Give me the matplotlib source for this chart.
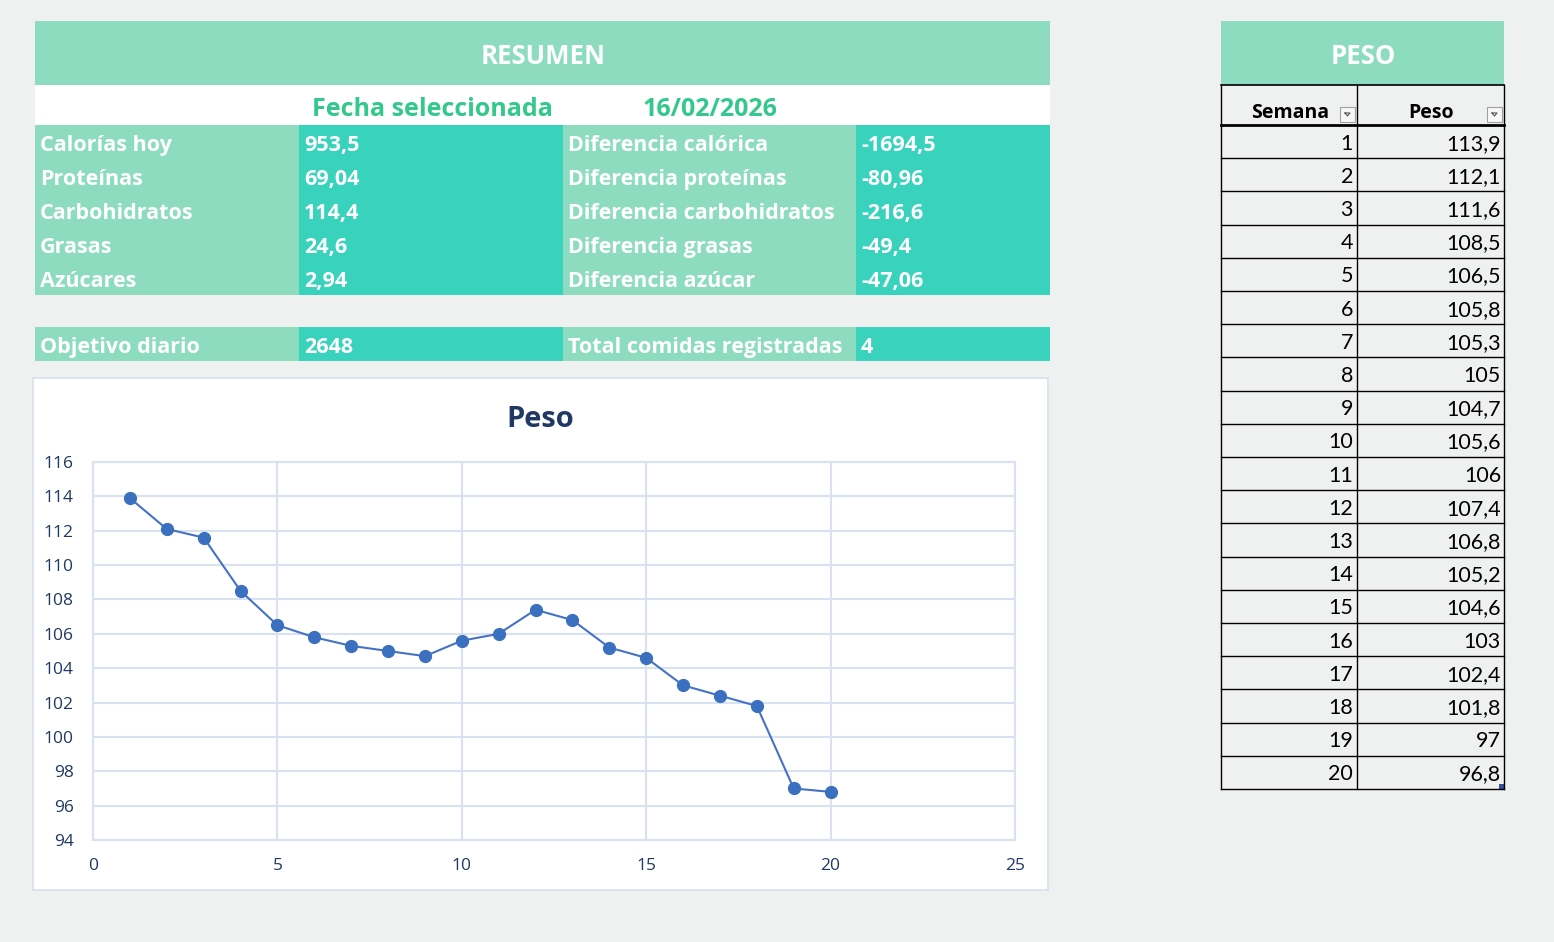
import matplotlib.pyplot as plt
from matplotlib.patches import Rectangle

plt.rcParams['font.family'] = ['Lato', 'DejaVu Sans']

# datos
semanas = [1, 2, 3, 4, 5, 6, 7, 8, 9, 10, 11, 12, 13, 14, 15, 16, 17, 18, 19, 20]
peso = [113.9, 112.1, 111.6, 108.5, 106.5, 105.8, 105.3, 105, 104.7, 105.6,
        106, 107.4, 106.8, 105.2, 104.6, 103, 102.4, 101.8, 97, 96.8]

fecha = "16/02/2026"
etiquetas_izq = ["Calorías hoy", "Proteínas", "Carbohidratos", "Grasas", "Azúcares"]
valores_izq = ["953,5", "69,04", "114,4", "24,6", "2,94"]
etiquetas_der = ["Diferencia calórica", "Diferencia proteínas", "Diferencia carbohidratos",
                 "Diferencia grasas", "Diferencia azúcar"]
valores_der = ["-1694,5", "-80,96", "-216,6", "-49,4", "-47,06"]
objetivo = ["Objetivo diario", "2648", "Total comidas registradas", "4"]

xticks = [0, 5, 10, 15, 20, 25]
yticks = [94, 96, 98, 100, 102, 104, 106, 108, 110, 112, 114, 116]

MENTA = "#8ddcc0"
TEAL = "#39d2bd"
VERDE = "#33c88c"
FONDO = "#eff1f0"
AZUL_OSC = "#1f3864"
GRID = "#d9e2f1"
BOLD = ['Open Sans', 'DejaVu Sans']

W, H = 1554, 942
fig = plt.figure(figsize=(W / 100, H / 100), dpi=100)
fig.patch.set_facecolor(FONDO)

bg = fig.add_axes([0, 0, 1, 1])
bg.set_xlim(0, W)
bg.set_ylim(H, 0)
bg.axis('off')


def rect(x0, y0, x1, y1, fc, ec='none', lw=0):
    bg.add_patch(Rectangle((x0, y0), x1 - x0, y1 - y0, facecolor=fc, edgecolor=ec, linewidth=lw))


def txt(x, y, s, size=15.5, color='white', ha='left'):
    # y = linea base del texto
    bg.text(x, y, s, fontsize=size, color=color, fontweight='bold', family=BOLD,
            ha=ha, va='baseline')


# --- RESUMEN ---
rect(35, 21, 1050, 85, MENTA)
txt(543, 64, "RESUMEN", size=18.5, ha='center')
rect(35, 85, 1050, 125, 'white')
txt(432, 116, "Fecha seleccionada", size=18, color=VERDE, ha='center')
txt(710, 116, fecha, size=18, color=VERDE, ha='center')

cols = [35, 299, 563, 856, 1050]
row_h = 34
for i in range(len(etiquetas_izq)):
    y0 = 125 + i * row_h
    rect(cols[0], y0, cols[1], y0 + row_h, MENTA)
    rect(cols[1], y0, cols[2], y0 + row_h, TEAL)
    rect(cols[2], y0, cols[3], y0 + row_h, MENTA)
    rect(cols[3], y0, cols[4], y0 + row_h, TEAL)
    yb = y0 + 26
    txt(cols[0] + 5, yb, etiquetas_izq[i])
    txt(cols[1] + 5, yb, valores_izq[i])
    txt(cols[2] + 5, yb, etiquetas_der[i])
    txt(cols[3] + 5, yb, valores_der[i])

y0 = 327
for j in range(4):
    rect(cols[j], y0, cols[j + 1], y0 + row_h, MENTA if j % 2 == 0 else TEAL)
    txt(cols[j] + 5, y0 + 26, objetivo[j])

# --- caja del gráfico ---
rect(33, 378, 1048, 890, 'white', ec='#d6e0ef', lw=1.2)
txt(540, 427, "Peso", size=21, color=AZUL_OSC, ha='center')

px0, px1, py0, py1 = 93, 1015, 462, 840
ax = fig.add_axes([px0 / W, 1 - py1 / H, (px1 - px0) / W, (py1 - py0) / H])
ax.set_facecolor('white')
ax.plot(semanas, peso, color='#4472c4', lw=1.5, marker='o', markersize=8.5,
        markerfacecolor='#3b6fc0', markeredgecolor='#3b6fc0', zorder=3)
ax.set_xlim(0, 25)
ax.set_ylim(94, 116)
ax.set_xticks(xticks)
ax.set_yticks(yticks)
ax.grid(True, color=GRID, lw=1.5)
ax.set_axisbelow(True)
for s in ax.spines.values():
    s.set_color(GRID)
    s.set_linewidth(1.5)
ax.tick_params(length=0, labelsize=12.5, labelcolor=AZUL_OSC)
ax.tick_params(axis='y', pad=14)
ax.tick_params(axis='x', pad=13)
for lab in ax.get_xticklabels() + ax.get_yticklabels():
    lab.set_fontfamily(['Open Sans', 'DejaVu Sans'])

# --- tabla PESO ---
tx0, tx1, tmid = 1221, 1504, 1357
rect(tx0, 21, tx1, 85, MENTA)
txt(1363, 64, "PESO", size=18.5, ha='center')
bg.plot([tx0, tx1], [85, 85], color='black', lw=1.2)
txt(1290, 118, "Semana", size=14, color='black', ha='center')
txt(1431, 118, "Peso", size=14, color='black', ha='center')
for bx in (1340, 1487):
    rect(bx, 107, bx + 15, 122, '#f7f7f7', ec='#a0a0a0', lw=0.8)
    bg.plot([bx + 5, bx + 10, bx + 7.5, bx + 5], [113, 113, 116, 113], color='#555555', lw=0.8)
bg.plot([tx0, tx1], [125, 125], color='black', lw=2)

n = len(semanas)
rh = (789 - 125) / n
for i in range(n):
    yb = 125 + (i + 1) * rh
    bg.plot([tx0, tx1], [yb, yb], color='black', lw=1)
    yc = 125 + i * rh + rh / 2 + 2
    bg.text(tmid - 4, yc, str(semanas[i]), fontsize=15.5, color='black', ha='right', va='center')
    bg.text(tx1 - 3, yc, f"{peso[i]:g}".replace('.', ','), fontsize=15.5, color='black',
            ha='right', va='center')
for x in (tx0, tmid, tx1):
    bg.plot([x, x], [85, 789], color='black', lw=1)
rect(1499, 784, 1504, 789, '#3a4fa0')

fig.savefig('out.png', dpi=100, facecolor=FONDO)
